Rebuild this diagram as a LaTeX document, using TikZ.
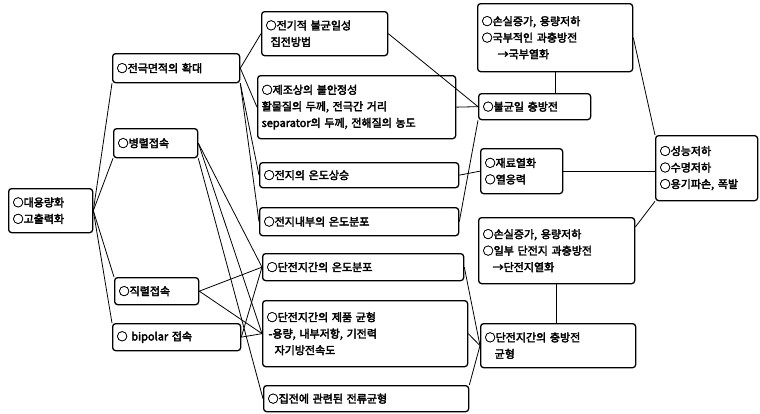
\documentclass[tikz,border=0pt]{standalone}
\usepackage{fontspec}
\setmainfont{Noto Sans CJK KR}[FakeBold=3]
\usetikzlibrary{calc}
\begin{document}
\begin{tikzpicture}[x=1pt,y=-1pt,
 bx/.style={draw, line width=1.3pt, rounded corners=3pt, anchor=north west, inner xsep=4pt, inner ysep=0pt, align=left, font=\fontsize{11}{16.5}\selectfont},
 ln/.style={line width=0.8pt}]
\useasboundingbox (0,0) rectangle (760,413);
% column 1
\node[bx, minimum width=84pt, minimum height=44pt, text width=76pt] (L) at (8,188) {○대용량화\\○고출력화};
% column 2
\node[bx, minimum width=127pt, minimum height=29pt, text width=119pt] (A1) at (112,53) {○전극면적의 확대};
\node[bx, minimum width=84pt, minimum height=29pt, text width=76pt] (A2) at (113,128) {○병렬접속};
\node[bx, minimum width=84pt, minimum height=27pt, text width=76pt] (A3) at (114,277) {○직렬접속};
\node[bx, minimum width=128pt, minimum height=27pt, text width=120pt] (A4) at (112,323) {○ bipolar 접속};
% column 3
\node[bx, minimum width=126pt, minimum height=44pt, text width=118pt] (B1) at (261,11) {○전기적 불균일성\\\hspace*{5pt}집전방법};
\node[bx, minimum width=198pt, minimum height=63pt, text width=190pt] (B2) at (257,75) {○제조상의 불안정성\\활물질의 두께, 전극간 거리\\separator의 두께, 전해질의 농도};
\node[bx, minimum width=199pt, minimum height=25pt, text width=191pt] (B3) at (259,162) {○전지의 온도상승};
\node[bx, minimum width=199pt, minimum height=28pt, text width=191pt] (B4) at (259,207) {○전지내부의 온도분포};
\node[bx, minimum width=201pt, minimum height=27pt, text width=193pt] (B5) at (262,253) {○단전지간의 온도분포};
\node[bx, minimum width=205pt, minimum height=66pt, text width=197pt] (B6) at (262,300) {○단전지간의 제품 균형\\\hspace*{2pt}-용량, 내부저항, 기전력\\\hspace*{8pt}자기방전속도};
\node[bx, minimum width=205pt, minimum height=26pt, text width=197pt] (B7) at (263,385) {○집전에 관련된 전류균형};
% column 4
\node[bx, minimum width=155pt, minimum height=68pt, text width=147pt] (C1) at (477,3) {○손실증가, 용량저하\\○국부적인 과충방전\\\hspace*{16pt}→국부열화};
\node[bx, minimum width=112pt, minimum height=26pt, text width=104pt] (C2) at (478,93) {○불균일 충방전};
\node[bx, minimum width=82pt, minimum height=45pt, text width=74pt] (C3) at (480,148) {○재료열화\\○열응력};
\node[bx, minimum width=156pt, minimum height=66pt, text width=148pt] (C4) at (478,217) {○손실증가, 용량저하\\○일부 단전지 과충방전\\\hspace*{10pt}→단전지열화};
\node[bx, minimum width=155pt, minimum height=44pt, text width=147pt] (C5) at (480,323) {○단전지간의 충방전\\\hspace*{10pt}균형};
% column 5
\node[bx, minimum width=102pt, minimum height=65pt, text width=94pt] (D) at (655,135) {○성능저하\\○수명저하\\○용기파손, 폭발};
% connectors
\draw[ln] (L.east) -- (A1.south west);
\draw[ln] (L.east) -- (A2.south west);
\draw[ln] (L.east) -- (A3.north west);
\draw[ln] (L.east) -- (A4.north west);
\draw[ln] (A1.east) -- (B1.west);
\draw[ln] (A1.east) -- (B2.west);
\draw[ln] (A1.south east) -- (B3.west);
\draw[ln] (A1.south east) -- (B4.west);
\draw[ln] (A2.east) -- (B5.west);
\draw[ln] (A2.east) -- (B6.west);
\draw[ln] (A2.south east) -- (B7.west);
\draw[ln] (A3.east) -- (B5.west);
\draw[ln] (A3.east) -- (B6.west);
\draw[ln] (A4.east) -- (B5.west);
\draw[ln] (A4.east) -- (B6.west);
\draw[ln] (B1.east) -- (C2.west);
\draw[ln] (B2.east) -- (C2.west);
\draw[ln] (B3.east) -- (C3.west);
\draw[ln] (B4.east) -- (C2.south west);
\draw[ln] (C1.south) -- (C1.south |- C2.north);
\draw[ln] (C1.east) -- (D.north west);
\draw[ln] (C3.east) -- (C3.east -| D.west);
\draw[ln] ($(C4.north east)+(0,10)$) -- (D.south west);
\draw[ln] (C4.south) -- (C4.south |- C5.north);
\draw[ln] (B5.east) -- (C5.west);
\draw[ln] (B6.east) -- (C5.west);
\draw[ln] (B7.north east) -- (C5.west);
\end{tikzpicture}
\end{document}
